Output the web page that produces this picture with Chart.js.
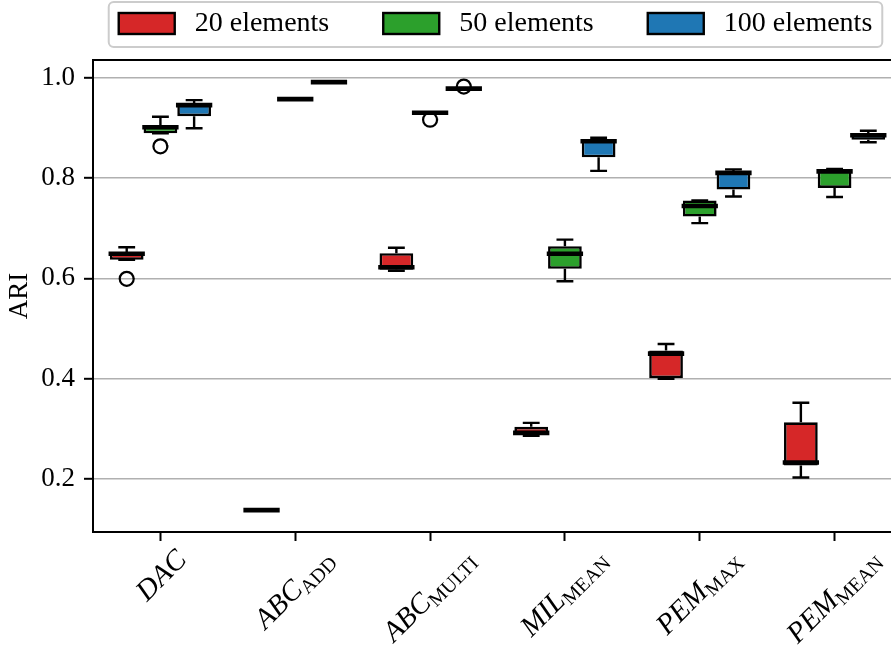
<!DOCTYPE html>
<html>
<head>
<meta charset="utf-8">
<script src="https://cdn.jsdelivr.net/npm/chart.js@4/dist/chart.umd.min.js"></script>
<style>
  html, body { margin: 0; padding: 0; background: #ffffff; overflow: hidden; }
  #wrap { width: 891px; height: 655px; overflow: hidden; position: relative; }
  canvas { display: block; }
</style>
</head>
<body>
<div id="wrap"><canvas id="chart" width="910" height="655"></canvas></div>
<script>
// Methods on the x axis (name_subscript)
const categories = ['DAC', 'ABC_ADD', 'ABC_MULTI', 'MIL_MEAN', 'PEM_MAX', 'PEM_MEAN'];
const seriesNames = ['20 elements', '50 elements', '100 elements'];
const seriesColors = ['#d62728', '#2ca02c', '#1f77b4'];
const yTicks = [0.2, 0.4, 0.6, 0.8, 1.0];

// 20 elements: box-plot statistics of ARI per method
const low20  = [0.637, 0.138, 0.615, 0.286, 0.400, 0.203];
const q1_20  = [0.637, 0.138, 0.617, 0.289, 0.401, 0.227];
const med20  = [0.649, 0.138, 0.622, 0.292, 0.450, 0.233];
const q3_20  = [0.652, 0.138, 0.650, 0.304, 0.456, 0.313];
const high20 = [0.662, 0.138, 0.661, 0.312, 0.469, 0.352];
const out20  = [[0.599], [], [], [], [], []];

// 50 elements
const low50  = [0.889, 0.957, 0.930, 0.594, 0.710, 0.762];
const q1_50  = [0.889, 0.957, 0.930, 0.619, 0.723, 0.780];
const med50  = [0.901, 0.957, 0.930, 0.649, 0.744, 0.813];
const q3_50  = [0.903, 0.957, 0.930, 0.664, 0.755, 0.818];
const high50 = [0.922, 0.957, 0.930, 0.677, 0.755, 0.818];
const out50  = [[0.863], [], [0.916], [], [], []];

// 100 elements
const low100  = [0.899, 0.991, 0.978, 0.814, 0.763, 0.871];
const q1_100  = [0.923, 0.991, 0.978, 0.841, 0.777, 0.876];
const med100  = [0.945, 0.991, 0.978, 0.873, 0.810, 0.885];
const q3_100  = [0.949, 0.991, 0.978, 0.877, 0.813, 0.888];
const high100 = [0.955, 0.991, 0.978, 0.880, 0.817, 0.894];
const out100  = [[], [], [0.982], [], [], []];

const stats = [
  { low: low20,  q1: q1_20,  med: med20,  q3: q3_20,  high: high20,  out: out20 },
  { low: low50,  q1: q1_50,  med: med50,  q3: q3_50,  high: high50,  out: out50 },
  { low: low100, q1: q1_100, med: med100, q3: q3_100, high: high100, out: out100 }
];

const FONT = '"Liberation Serif", "Times New Roman", serif';
const FONT_SIZE = 27;

// Whiskers, caps, medians and fliers on top of the IQR bars
const boxExtras = {
  id: 'boxExtras',
  afterDatasetsDraw(chart) {
    const ctx = chart.ctx;
    const y = chart.scales.y;
    ctx.save();
    chart.data.datasets.forEach((ds, di) => {
      const meta = chart.getDatasetMeta(di);
      const st = stats[di];
      meta.data.forEach((bar, i) => {
        const p = bar.getProps(['x', 'width'], true);
        const cx = p.x, w = p.width;
        const yq1 = y.getPixelForValue(st.q1[i]);
        const yq3 = y.getPixelForValue(st.q3[i]);
        const ylo = y.getPixelForValue(st.low[i]);
        const yhi = y.getPixelForValue(st.high[i]);
        const ymed = y.getPixelForValue(st.med[i]);
        ctx.strokeStyle = '#000';
        ctx.lineCap = 'butt';
        ctx.lineWidth = 2.4;
        // whiskers
        ctx.beginPath();
        if (st.high[i] > st.q3[i]) { ctx.moveTo(cx, yq3); ctx.lineTo(cx, yhi); }
        if (st.low[i] < st.q1[i]) { ctx.moveTo(cx, yq1); ctx.lineTo(cx, ylo); }
        ctx.stroke();
        // caps
        ctx.beginPath();
        ctx.moveTo(cx - w / 4, yhi); ctx.lineTo(cx + w / 4, yhi);
        ctx.moveTo(cx - w / 4, ylo); ctx.lineTo(cx + w / 4, ylo);
        ctx.stroke();
        // median
        ctx.lineCap = 'square';
        ctx.lineWidth = 4.6;
        ctx.beginPath();
        ctx.moveTo(cx - w / 2 + 1, ymed); ctx.lineTo(cx + w / 2 - 1, ymed);
        ctx.stroke();
        // fliers
        ctx.lineWidth = 2.2;
        st.out[i].forEach(v => {
          ctx.beginPath();
          ctx.arc(cx, y.getPixelForValue(v), 7, 0, Math.PI * 2);
          ctx.stroke();
        });
      });
    });
    ctx.restore();
  }
};

// Top spine, rotated method names with subscripts, and the framed legend
const decorations = {
  id: 'decorations',
  afterDraw(chart) {
    const ctx = chart.ctx;
    const area = chart.chartArea;
    const xs = chart.scales.x;
    ctx.save();
    // top spine
    ctx.strokeStyle = '#000';
    ctx.lineWidth = 2;
    ctx.beginPath();
    ctx.moveTo(area.left - 1, area.top);
    ctx.lineTo(area.right, area.top);
    ctx.stroke();

    // x tick labels, rotated 45 degrees and centred on each tick
    const labelTop = area.bottom + 9 + 6;
    categories.forEach((cat, i) => {
      const parts = cat.split('_');
      const main = parts[0];
      const sub = parts[1] || '';
      const mainFont = 'italic 29px ' + FONT;
      const subFont = '20px ' + FONT;
      ctx.font = mainFont;
      const mw = ctx.measureText(main).width;
      ctx.font = subFont;
      const sw = sub ? ctx.measureText(sub).width : 0;
      const w = mw + sw;
      const h = sub ? 25 : 20;
      const side = (w + h) / Math.SQRT2;
      const x = xs.getPixelForTick(i);
      ctx.save();
      ctx.translate(x, labelTop + side / 2);
      ctx.rotate(-Math.PI / 4);
      ctx.fillStyle = '#000';
      ctx.textBaseline = 'alphabetic';
      ctx.textAlign = 'left';
      const base = sub ? 7 : 10;
      ctx.font = mainFont;
      ctx.fillText(main, -w / 2, base);
      if (sub) {
        ctx.font = subFont;
        ctx.fillText(sub, -w / 2 + mw, base + 5);
      }
      ctx.restore();
    });

    // legend
    ctx.font = '28px ' + FONT;
    const handleW = 56, handleH = 21, gapHT = 20, itemGap = 54, padX = 10;
    const tws = seriesNames.map(s => ctx.measureText(s).width);
    let total = padX * 2 + itemGap * (seriesNames.length - 1);
    tws.forEach(t => { total += handleW + gapHT + t; });
    const cxl = (area.left + area.right) / 2 - 2;
    const lx = cxl - total / 2, ly = 2, lh = 45;
    ctx.beginPath();
    ctx.roundRect(lx, ly, total, lh, 5);
    ctx.fillStyle = 'rgba(255,255,255,0.8)';
    ctx.fill();
    ctx.strokeStyle = '#cccccc';
    ctx.lineWidth = 2;
    ctx.stroke();
    let x = lx + padX;
    seriesNames.forEach((name, k) => {
      ctx.fillStyle = seriesColors[k];
      ctx.fillRect(x, 13, handleW, handleH);
      ctx.strokeStyle = '#000';
      ctx.lineWidth = 2.4;
      ctx.strokeRect(x, 13, handleW, handleH);
      ctx.fillStyle = '#000';
      ctx.textBaseline = 'middle';
      ctx.textAlign = 'left';
      ctx.fillText(name, x + handleW + gapHT, 24);
      x += handleW + gapHT + tws[k] + itemGap;
    });
    ctx.restore();
  }
};

const datasets = seriesNames.map((name, k) => ({
  label: name,
  data: stats[k].q1.map((v, i) => [v, stats[k].q3[i]]),
  backgroundColor: seriesColors[k],
  borderColor: '#000',
  borderWidth: 2.6,
  borderSkipped: false,
  categoryPercentage: 0.75,
  barPercentage: 1.0
}));

new Chart(document.getElementById('chart'), {
  type: 'bar',
  data: { labels: categories, datasets },
  options: {
    responsive: false,
    animation: false,
    devicePixelRatio: 1,
    layout: { padding: { top: 60, left: 0, right: 8, bottom: 0 } },
    plugins: { legend: { display: false }, tooltip: { enabled: false } },
    scales: {
      x: {
        offset: true,
        grid: {
          offset: false,
          drawOnChartArea: false,
          drawTicks: true,
          tickLength: 9,
          tickColor: '#000',
          tickWidth: 2
        },
        border: { color: '#000', width: 2 },
        ticks: { callback: () => '', maxRotation: 0, autoSkip: false },
        afterFit(scale) { scale.height = 123; }
      },
      y: {
        min: 0.0945,
        max: 1.035,
        afterBuildTicks(scale) { scale.ticks = yTicks.map(v => ({ value: v })); },
        grid: {
          color: '#b0b0b0',
          lineWidth: 1.6,
          drawTicks: true,
          tickLength: 9,
          tickColor: '#000',
          tickWidth: 2
        },
        border: { color: '#000', width: 2 },
        ticks: {
          padding: 9,
          color: '#000',
          font: { family: FONT, size: FONT_SIZE },
          callback: v => Number(v).toFixed(1)
        },
        title: {
          display: true,
          text: 'ARI',
          color: '#000',
          font: { family: FONT, size: FONT_SIZE },
          padding: { top: 4, bottom: 0 }
        },
        afterFit(scale) { scale.width = 93; }
      }
    }
  },
  plugins: [boxExtras, decorations]
});
</script>
</body>
</html>
